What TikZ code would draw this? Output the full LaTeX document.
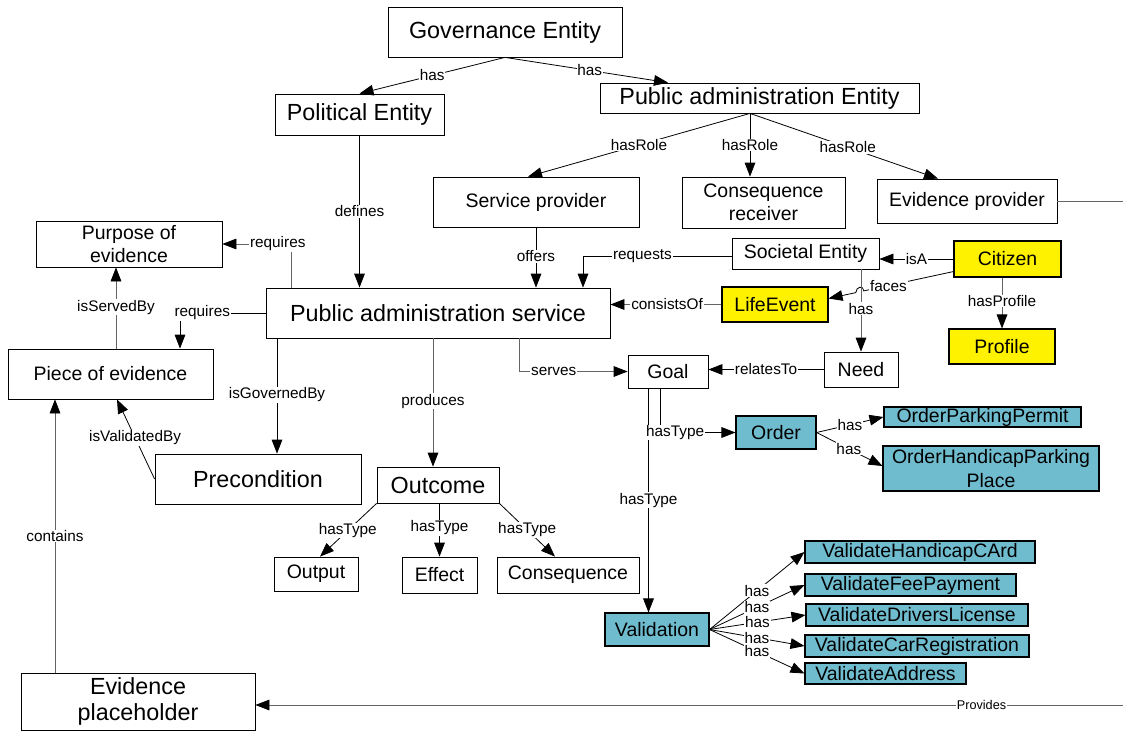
\documentclass[tikz,border=0pt]{standalone}
\usepackage{fontspec}
\setmainfont{Liberation Sans}
\usetikzlibrary{arrows.meta,calc}
\definecolor{tealbox}{RGB}{112,188,207}
\definecolor{lineGray}{RGB}{100,100,100}
\tikzset{
  sz/.style n args={2}{minimum width=#1*0.75pt, minimum height=#2*0.75pt},
  box/.style={draw=black, line width=0.6pt, fill=white, rectangle, inner sep=0pt,
              align=center, font=\fontsize{14.6}{17.25}\selectfont},
  bigbox/.style={box, font=\fontsize{17.5}{20}\selectfont},
  yellowbox/.style={box, fill=yellow, line width=0.8pt},
  tealnode/.style={box, fill=tealbox, line width=0.8pt, font=\fontsize{14.6}{18}\selectfont},
  conn/.style={draw=black, line width=0.6pt, -{Triangle[length=10.5pt,width=8pt,color=black]}},
  gconn/.style={conn, draw=lineGray},
  lbl/.style={fill=white, inner sep=0.6pt, font=\fontsize{11.5}{13}\selectfont, text=black},
}
\begin{document}
\begin{tikzpicture}[x=0.75pt, y=-0.75pt]
\fill[white] (0,0) rectangle (1123,731);
\useasboundingbox (0,0) rectangle (1123,731);

% ---- concepts ----
\node[bigbox, sz={234}{50}] (gov) at (505,32) {Governance Entity};
\node[bigbox, sz={169}{41}] (pol) at (359.5,114.5) {Political Entity};
\node[bigbox, sz={319}{30}] (pae) at (759.5,98) {Public administration Entity};
\node[box, sz={206}{50}] (sprov) at (536,202) {Service provider};
\node[box, sz={163}{51}] (crec) at (763.5,202.5) {Consequence\\receiver};
\node[box, sz={180}{44}] (eprov) at (967,201) {Evidence provider};
\node[box, sz={147}{31}] (soc) at (805.5,253.5) {Societal Entity};
\node[yellowbox, sz={107}{36}] (cit) at (1007.5,259) {Citizen};
\node[yellowbox, sz={106}{35}] (life) at (775,304.5) {LifeEvent};
\node[yellowbox, sz={106}{35}] (prof) at (1002,346.5) {Profile};
\node[box, sz={186}{46}] (purp) at (129,244) {Purpose of\\evidence};
\node[bigbox, sz={344}{50}] (pas) at (438,313) {Public administration service};
\node[box, sz={205}{50}] (piece) at (110.5,374) {Piece of evidence};
\node[box, sz={80}{33}] (goal) at (668,371.5) {Goal};
\node[box, sz={74}{35}] (need) at (861,369.5) {Need};
\node[tealnode, sz={80}{33}] (order) at (776,432.5) {Order};
\node[tealnode, sz={197}{20}] (opp) at (982.5,417) {OrderParkingPermit};
\node[tealnode, sz={216}{45}] (ohp) at (991,468.5) {OrderHandicapParking\\Place};
\node[bigbox, sz={206}{50}] (prec) at (258,479) {Precondition};
\node[bigbox, sz={122}{36}] (outc) at (438,485) {Outcome};
\node[box, sz={84}{34}] (outp) at (316,574) {Output};
\node[box, sz={75}{36}] (eff) at (439.5,575) {Effect};
\node[box, sz={142}{36}] (cons) at (568,575) {Consequence};
\node[tealnode, sz={230}{22}] (v1) at (920,552) {ValidateHandicapCArd};
\node[tealnode, sz={211}{22}] (v2) at (910.5,585) {ValidateFeePayment};
\node[tealnode, sz={222}{22}] (v3) at (917,615) {ValidateDriversLicense};
\node[tealnode, sz={224}{22}] (v4) at (917,646) {ValidateCarRegistration};
\node[tealnode, sz={161}{21}] (v5) at (885.5,673.5) {ValidateAddress};
\node[tealnode, sz={104}{33}] (valid) at (657,629.5) {Validation};
\node[bigbox, sz={234}{57}] (eph) at (138,701.5) {Evidence\\placeholder};

% ---- relations ----
\draw[conn] (gov.south) -- node[lbl] (l1) {has} (pol.north);
\draw[conn] (gov.south) -- node[lbl,pos=0.52] (l2) {has} ($(pae.north)+(-91.5,0)$);

\coordinate (paeo) at ($(pae.south)+(-9.5,0)$);
\draw[conn] (paeo) -- node[lbl] (l3) {hasRole} ($(sprov.north)+(-8,0)$);
\draw[conn] (paeo) -- node[lbl] (l4) {hasRole} (paeo |- crec.north);
\draw[conn] (paeo) -- node[lbl,pos=0.52] (l5) {hasRole} ($(eprov.north)+(-29,0)$);

\draw[conn] (pol.south) -- node[lbl] (l6) {defines} (pol.south |- pas.north);
\draw[conn] (sprov.south) -- node[lbl,pos=0.48] (l7) {offers} (sprov.south |- pas.north);
\draw[conn] ($(soc.west)+(0,3)$) -| node[lbl,pos=0.3] (l8) {requests} ($(pas.north)+(145,0)$);
\draw[conn] (cit.west) -- node[lbl] (l9) {isA} (cit.west -| soc.east);

% faces: hops over the Societal Entity -> Need line
\coordinate (fa) at ($(cit.south west)+(0,-6)$);
\coordinate (fb) at ($(life.east)+(0,-6)$);
\draw[conn] (fa) -- node[lbl,pos=0.724] (l10) {faces} ($(fa)!0.718!(fb)$)
  .. controls +(0,-6) and +(0,-6) .. ($(fa)!0.782!(fb)$) -- (fb);

\draw[gconn] (prof.north |- cit.south) -- node[lbl,pos=0.46] (l11) {hasProfile} (prof.north);
\draw[gconn] (life.west) -- node[lbl,pos=0.49] (l12) {consistsOf} (life.west -| pas.east);
\draw[gconn] (need.north |- soc.south) -- node[lbl,pos=0.48] (l13) {has} (need.north);
\draw[conn] (need.west) -- node[lbl] (l14) {relatesTo} (need.west -| goal.east);
\draw[gconn] ($(pas.south)+(81,0)$) |- node[lbl,pos=0.66] (l15) {serves} (goal.west);
\draw[gconn] ($(pas.north west)+(26,0)$) |- node[lbl,pos=0.6] (l16) {requires} (purp.east);
\draw[conn] (pas.west) -| node[lbl,pos=0.37] (l17) {requires} ($(piece.north)+(69.5,0)$);
\draw[gconn] ($(piece.north)+(5.5,0)$) -- node[lbl,pos=0.51] (l18) {isServedBy} ($(purp.south)+(-13,0)$);
\draw[conn] (prec.west) -- node[lbl,pos=0.52] (l19) {isValidatedBy} ($(piece.south)+(6.5,0)$);
\draw[conn] ($(pas.south)+(-161,0)$) -- node[lbl,pos=0.49] (l20) {isGovernedBy} ($(prec.north)+(19,0)$);
\draw[gconn] ($(pas.south)+(-5,0)$) -- node[lbl,pos=0.49] (l21) {produces} ($(outc.north)+(-5,0)$);

\draw[conn] (outc.south west) -- node[lbl,pos=0.51] (l22) {hasType} ($(outp.north)+(4,0)$);
\draw[conn] (eff.north |- outc.south) -- node[lbl,pos=0.46] (l23) {hasType} (eff.north);
\draw[conn] (outc.south east) -- node[lbl] (l24) {hasType} ($(cons.north)+(-13,0)$);

\draw[conn] ($(goal.south)+(-19.5,0)$) -- node[lbl] (l26) {hasType} ($(valid.north)+(-8.5,0)$);
\draw[conn] ($(goal.south)+(-8,0)$) |- node[lbl,pos=0.6] (l25) {hasType} (order.west);

\draw[conn] (order.east) -- node[lbl] (l27) {has} (opp.west);
\draw[conn] (order.east) -- node[lbl,pos=0.49] (l28) {has} ($(ohp.west)+(0,-2.5)$);

\foreach \v in {v1,v2,v3,v4,v5}
  \draw[conn] (valid.east) -- node[lbl] (lh\v) {has} (\v.west);

\coordinate (rc) at (1126,705);
\draw[gconn] (eprov.east) -| (rc) -- node[lbl,pos=0.166,font=\fontsize{9.5}{11}\selectfont] (l30) {Provides} ($(eph.east)+(0,3.5)$);
\draw[gconn] ($(eph.north)+(-83,0)$) -- node[lbl] (l31) {contains} ($(piece.south)+(-55.5,0)$);
\end{tikzpicture}
\end{document}
